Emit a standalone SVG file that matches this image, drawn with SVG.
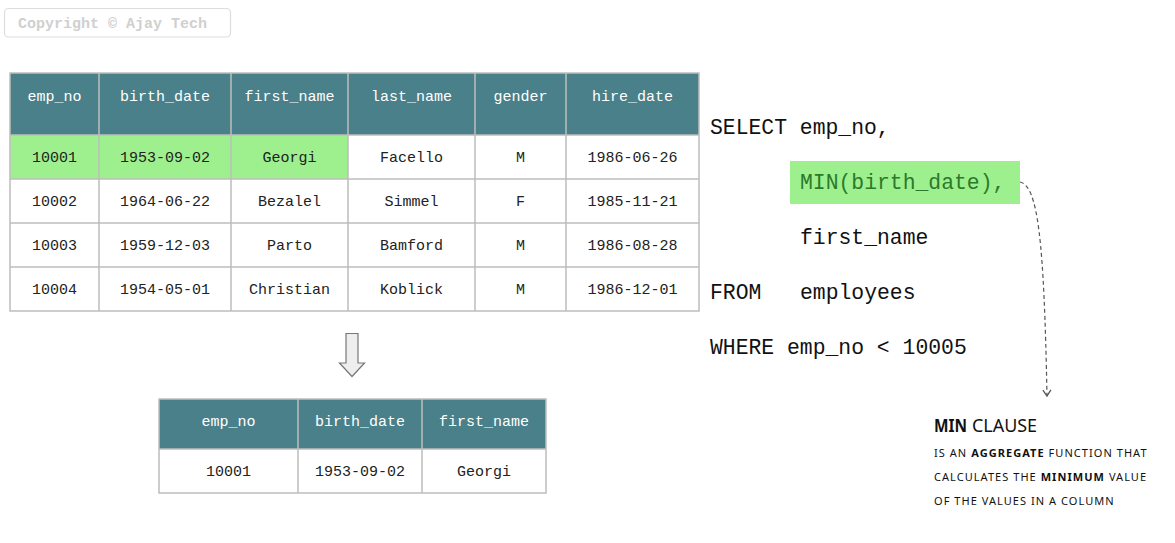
<svg xmlns="http://www.w3.org/2000/svg" width="1175" height="543" viewBox="0 0 1175 543">
<defs>
<style>
.hdr{fill:#4a808a}
.hl{fill:#9ef08f}
.cell{fill:#ffffff}
.grid{stroke:#bdbdbd;stroke-width:1.5;fill:none}
.ht{font-family:"Liberation Mono","DejaVu Sans Mono",monospace;font-size:15px;fill:#ffffff;text-anchor:middle}
.dt{font-family:"Liberation Mono","DejaVu Sans Mono",monospace;font-size:15px;fill:#222222;text-anchor:middle}
.sql{font-family:"Liberation Mono","DejaVu Sans Mono",monospace;font-size:21.4px;fill:#111111}
.note{font-family:"Noto Sans","Liberation Sans",sans-serif;fill:#111111}
.small{font-size:11px;letter-spacing:1.05px}
</style>
<marker id="vhead" markerWidth="10" markerHeight="10" refX="8" refY="5" orient="auto" markerUnits="userSpaceOnUse" viewBox="0 0 10 10">
<path d="M2,1 L8,5 L2,9" fill="none" stroke="#555555" stroke-width="1.3"/>
</marker>
</defs>
<rect width="1175" height="543" fill="#ffffff"/>

<g id="copyright">
<rect x="4.5" y="8.5" width="226" height="28.5" rx="4" fill="#ffffff" stroke="#dddddd" stroke-width="1.2"/>
<text x="18" y="28" font-family="Liberation Mono,DejaVu Sans Mono,monospace" font-size="15" font-weight="bold" fill="#d0d0d0">Copyright © Ajay Tech</text>
</g>

<g id="employees-table">
<rect class="hdr" x="10" y="73" width="689" height="62"/>
<rect class="hl" x="10" y="135" width="338" height="44"/>
<rect class="cell" x="348" y="135" width="351" height="44"/>
<rect class="cell" x="10" y="179" width="689" height="132"/>
<path class="grid" d="M10,73 H699 V311 H10 Z M10,135 H699 M10,179 H699 M10,223 H699 M10,267 H699 M99,73 V311 M231,73 V311 M348,73 V311 M475,73 V311 M566,73 V311"/>
<g class="ht">
<text x="54.5" y="101">emp_no</text>
<text x="165" y="101">birth_date</text>
<text x="289.5" y="101">first_name</text>
<text x="411.5" y="101">last_name</text>
<text x="520.5" y="101">gender</text>
<text x="632.5" y="101">hire_date</text>
</g>
<g class="dt">
<text x="54.5" y="162">10001</text>
<text x="165" y="162">1953-09-02</text>
<text x="289.5" y="162">Georgi</text>
<text x="411.5" y="162">Facello</text>
<text x="520.5" y="162">M</text>
<text x="632.5" y="162">1986-06-26</text>
<text x="54.5" y="206">10002</text>
<text x="165" y="206">1964-06-22</text>
<text x="289.5" y="206">Bezalel</text>
<text x="411.5" y="206">Simmel</text>
<text x="520.5" y="206">F</text>
<text x="632.5" y="206">1985-11-21</text>
<text x="54.5" y="250">10003</text>
<text x="165" y="250">1959-12-03</text>
<text x="289.5" y="250">Parto</text>
<text x="411.5" y="250">Bamford</text>
<text x="520.5" y="250">M</text>
<text x="632.5" y="250">1986-08-28</text>
<text x="54.5" y="294">10004</text>
<text x="165" y="294">1954-05-01</text>
<text x="289.5" y="294">Christian</text>
<text x="411.5" y="294">Koblick</text>
<text x="520.5" y="294">M</text>
<text x="632.5" y="294">1986-12-01</text>
</g>
</g>

<g id="result-arrow">
<path d="M346,333.5 H358 V363 H364.5 L352,376.5 L339.5,363 H346 Z" fill="#eeeeee" stroke="#777777" stroke-width="1.2"/>
</g>

<g id="result-table">
<rect class="hdr" x="159" y="399" width="387" height="50"/>
<rect class="cell" x="159" y="449" width="387" height="44"/>
<path class="grid" d="M159,399 H546 V493 H159 Z M159,449 H546 M298,399 V493 M422,399 V493"/>
<g class="ht">
<text x="228.5" y="426">emp_no</text>
<text x="360" y="426">birth_date</text>
<text x="484" y="426">first_name</text>
</g>
<g class="dt">
<text x="228.5" y="476">10001</text>
<text x="360" y="476">1953-09-02</text>
<text x="484" y="476">Georgi</text>
</g>
</g>

<g id="sql-query">
<rect class="hl" x="790" y="161" width="230" height="43"/>
<text class="sql" x="710" y="134">SELECT emp_no,</text>
<text class="sql" x="800" y="189" style="fill:#2b7a2b">MIN(birth_date),</text>
<text class="sql" x="800" y="244">first_name</text>
<text class="sql" x="710" y="299">FROM</text>
<text class="sql" x="800" y="299">employees</text>
<text class="sql" x="710" y="354">WHERE emp_no &lt; 10005</text>
</g>

<g id="connectors">
<path d="M1020,182 C1038,186 1044,240 1047,396" fill="none" stroke="#555555" stroke-width="1.2" stroke-dasharray="4,3" marker-end="url(#vhead)"/>
</g>

<g id="min-note">
<text class="note" x="934" y="432" font-size="18" font-weight="bold" textLength="33" lengthAdjust="spacingAndGlyphs">MIN</text>
<text class="note" x="972" y="432" font-size="18" textLength="65" lengthAdjust="spacingAndGlyphs">CLAUSE</text>
<text class="note small" x="934" y="457">IS AN <tspan font-weight="bold">AGGREGATE</tspan> FUNCTION THAT</text>
<text class="note small" x="934" y="481">CALCULATES THE <tspan font-weight="bold">MINIMUM</tspan> VALUE</text>
<text class="note small" x="934" y="505">OF THE VALUES IN A COLUMN</text>
</g>
</svg>
